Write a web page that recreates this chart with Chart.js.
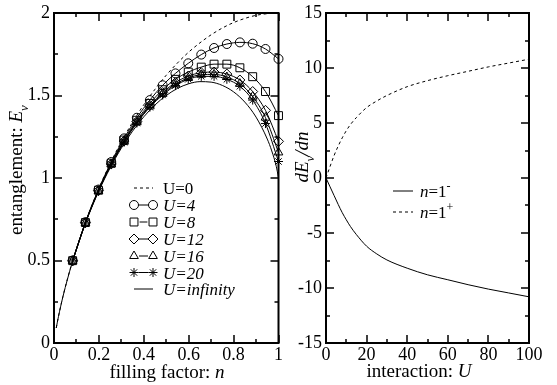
<!DOCTYPE html>
<html>
<head>
<meta charset="utf-8">
<script src="https://cdn.jsdelivr.net/npm/chart.js@4/dist/chart.umd.min.js"></script>
<style>
  html, body { margin: 0; padding: 0; background: #fff; }
  #wrap { position: relative; width: 557px; height: 385px; overflow: hidden; }
  #left { position: absolute; left: 0; top: 0; }
  #right { position: absolute; left: 282px; top: 0; }
</style>
</head>
<body>
<div id="wrap">
  <canvas id="left" width="286" height="385"></canvas>
  <canvas id="right" width="275" height="385"></canvas>
</div>
<script>
// ---- left panel: entanglement vs filling factor ----
const fineN   = [0.01,0.02,0.04,0.06,0.08,0.1,0.15,0.2,0.25,0.3,0.35,0.4,0.45,0.5,0.55,0.6,0.65,0.7,0.75,0.8,0.85,0.9,0.95,0.97,0.99,1.0];
const entU0   = [0.091,0.162,0.283,0.389,0.485,0.573,0.769,0.938,1.087,1.220,1.338,1.444,1.538,1.623,1.697,1.763,1.819,1.868,1.909,1.942,1.967,1.986,1.996,1.999,2.0,2.0];
const entUinf = [0.091,0.161,0.282,0.387,0.482,0.569,0.760,0.922,1.061,1.181,1.284,1.371,1.443,1.500,1.543,1.571,1.584,1.581,1.561,1.522,1.460,1.369,1.236,1.164,1.071,1.0];

const fillN  = [0.083,0.140,0.198,0.255,0.312,0.369,0.427,0.484,0.541,0.598,0.656,0.713,0.770,0.828,0.885,0.942,1.0];
const entU4  = [0.500,0.732,0.930,1.097,1.240,1.365,1.472,1.562,1.634,1.695,1.748,1.788,1.812,1.822,1.814,1.782,1.722];
const entU8  = [0.499,0.730,0.926,1.090,1.230,1.350,1.452,1.535,1.598,1.642,1.672,1.690,1.690,1.668,1.614,1.524,1.378];
const entU12 = [0.498,0.729,0.923,1.085,1.224,1.342,1.440,1.518,1.578,1.618,1.638,1.642,1.630,1.594,1.524,1.410,1.222];
const entU16 = [0.498,0.728,0.922,1.083,1.220,1.337,1.434,1.510,1.568,1.606,1.626,1.628,1.612,1.572,1.494,1.366,1.155];
const entU20 = [0.497,0.727,0.921,1.081,1.217,1.333,1.429,1.503,1.560,1.598,1.616,1.616,1.598,1.556,1.472,1.330,1.100];

const leftLabels = ['U=0', 'U=4', 'U=8', 'U=12', 'U=16', 'U=20', 'U=infinity'];
const leftXMajor = [0, 0.2, 0.4, 0.6, 0.8, 1];
const leftXMinor = [0.1, 0.3, 0.5, 0.7, 0.9];
const leftYMajor = [0, 0.5, 1, 1.5, 2];
const leftYMinor = [0.25, 0.75, 1.25, 1.75];

// ---- right panel: dE/dn at n=1 vs interaction ----
const interU     = [0,2,4,6,8,10,12,15,20,25,30,40,50,60,70,80,90,100];
const slopeMinus = [0,-0.8,-1.6,-2.4,-3.15,-3.8,-4.4,-5.15,-6.2,-6.9,-7.45,-8.2,-8.8,-9.25,-9.7,-10.1,-10.45,-10.8];
const slopePlus  = [0,1.05,2.05,2.9,3.65,4.3,4.85,5.5,6.4,7.0,7.5,8.3,8.85,9.3,9.7,10.1,10.45,10.8];

const rightXMajor = [0, 20, 40, 60, 80, 100];
const rightXMinor = [10, 30, 50, 70, 90];
const rightYMajor = [-15, -10, -5, 0, 5, 10, 15];
const rightYMinor = [-12.5, -7.5, -2.5, 2.5, 7.5, 12.5];

const serif = '"Liberation Serif", "Times New Roman", serif';

function pts(xs, ys) { return xs.map((x, i) => ({ x: x, y: ys[i] })); }

function fontOf(r, size) {
  const s = (r.sub || r.sup) ? Math.round(size * 0.7) : size;
  return (r.i ? 'italic ' : '') + s + 'px ' + serif;
}

// draws a run of text pieces (italic / sub / sup), align 'center' or 'left'
function drawRuns(ctx, runs, x, y, size, align) {
  let w = 0;
  runs.forEach(r => { ctx.font = fontOf(r, size); w += ctx.measureText(r.t).width; });
  let cx = align === 'left' ? x : x - w / 2;
  ctx.textAlign = 'left';
  ctx.textBaseline = 'alphabetic';
  ctx.fillStyle = '#000';
  runs.forEach(r => {
    ctx.font = fontOf(r, size);
    const dy = r.sub ? size * 0.3 : (r.sup ? -size * 0.42 : 0);
    ctx.fillText(r.t, cx, y + dy);
    cx += ctx.measureText(r.t).width;
  });
}

function marker(ctx, style, radius, x, y) {
  ctx.save();
  ctx.fillStyle = 'rgba(0,0,0,0)';
  ctx.strokeStyle = '#000';
  ctx.lineWidth = 1;
  if (Chart.helpers && Chart.helpers.drawPoint) {
    Chart.helpers.drawPoint(ctx, { pointStyle: style, rotation: 0, radius: radius, borderWidth: 1 }, x, y);
  } else {
    ctx.beginPath(); ctx.arc(x, y, radius, 0, Math.PI * 2); ctx.stroke();
  }
  ctx.restore();
}

function frameTicks(xMaj, xMin, yMaj, yMin) {
  return {
    id: 'frameTicks',
    afterDatasetsDraw(chart) {
      const ctx = chart.ctx, a = chart.chartArea, x = chart.scales.x, y = chart.scales.y;
      ctx.save();
      ctx.strokeStyle = '#000';
      ctx.lineWidth = 1.5;
      ctx.beginPath();
      const vt = (v, len) => {
        const px = Math.round(x.getPixelForValue(v));
        ctx.moveTo(px, a.bottom); ctx.lineTo(px, a.bottom - len);
        ctx.moveTo(px, a.top); ctx.lineTo(px, a.top + len);
      };
      const ht = (v, len) => {
        const py = Math.round(y.getPixelForValue(v));
        ctx.moveTo(a.left, py); ctx.lineTo(a.left + len, py);
        ctx.moveTo(a.right, py); ctx.lineTo(a.right - len, py);
      };
      xMaj.forEach(v => vt(v, 8)); xMin.forEach(v => vt(v, 4));
      yMaj.forEach(v => ht(v, 8)); yMin.forEach(v => ht(v, 4));
      ctx.stroke();
      ctx.lineWidth = 2;
      ctx.strokeRect(a.left, a.top, a.right - a.left, a.bottom - a.top);
      ctx.restore();
    }
  };
}

const tickFont = { family: serif, size: 18, lineHeight: 1 };

function axes(xmin, xmax, xstep, ymin, ymax, ystep, yWidth, fmt) {
  return {
    x: {
      type: 'linear', min: xmin, max: xmax,
      grid: { display: false, drawTicks: false }, border: { display: false },
      ticks: { stepSize: xstep, autoSkip: false, maxRotation: 0, color: '#000', font: tickFont, padding: 3, callback: fmt },
      afterFit: s => { s.height = 42; }
    },
    y: {
      type: 'linear', min: ymin, max: ymax,
      grid: { display: false, drawTicks: false }, border: { display: false },
      ticks: { stepSize: ystep, autoSkip: false, color: '#000', font: tickFont, padding: 4, callback: fmt },
      afterFit: s => { s.width = yWidth; }
    }
  };
}

const fmtNum = v => String(+(+v).toFixed(2));

function markedSet(label, ys, style, radius) {
  return {
    label: label, data: pts(fillN, ys),
    borderColor: '#000', borderWidth: 1,
    pointStyle: style, pointRadius: radius, pointBackgroundColor: 'rgba(0,0,0,0)',
    pointBorderColor: '#000', pointBorderWidth: 1,
    cubicInterpolationMode: 'monotone', fill: false, clip: 12
  };
}

const leftStyles = [null, 'circle', 'rect', 'rectRot', 'triangle', 'star', null];
const leftRadii  = [0, 4.5, 5.6, 5, 5, 4.5, 0];

const leftLegend = {
  id: 'leftLegend',
  afterDraw(chart) {
    const ctx = chart.ctx;
    const ys = [188, 205, 222, 239, 256, 272.5, 289];
    leftLabels.forEach((lab, i) => {
      const y = ys[i];
      ctx.save();
      ctx.strokeStyle = '#000';
      ctx.lineWidth = 1;
      ctx.setLineDash(i === 0 ? [3, 3] : []);
      ctx.beginPath();
      if (leftStyles[i]) {
        ctx.moveTo(134 + leftRadii[i], y); ctx.lineTo(153 - leftRadii[i], y);
      } else {
        ctx.moveTo(134, y); ctx.lineTo(153, y);
      }
      ctx.stroke();
      ctx.restore();
      if (leftStyles[i]) {
        marker(ctx, leftStyles[i], leftRadii[i], 134, y);
        marker(ctx, leftStyles[i], leftRadii[i], 153, y);
      }
      drawRuns(ctx, [{ t: lab, i: i > 0 }], 163, y + 6, 17, 'left');
    });
    // axis titles
    drawRuns(ctx, [{ t: 'filling factor: ' }, { t: 'n', i: 1 }], 167, 378, 19, 'center');
    ctx.save();
    ctx.translate(22, 170);
    ctx.rotate(-Math.PI / 2);
    drawRuns(ctx, [{ t: 'entanglement: ' }, { t: 'E', i: 1 }, { t: 'ν', i: 1, sub: 1 }], 0, 0, 19, 'center');
    ctx.restore();
  }
};

new Chart(document.getElementById('left'), {
  type: 'line',
  data: {
    datasets: [
      { label: leftLabels[0], data: pts(fineN, entU0), borderColor: '#000', borderWidth: 1, borderDash: [3, 3], pointRadius: 0, cubicInterpolationMode: 'monotone', fill: false },
      { label: leftLabels[6], data: pts(fineN, entUinf), borderColor: '#000', borderWidth: 1, pointRadius: 0, cubicInterpolationMode: 'monotone', fill: false },
      markedSet(leftLabels[1], entU4, 'circle', 4.5),
      markedSet(leftLabels[2], entU8, 'rect', 5.6),
      markedSet(leftLabels[3], entU12, 'rectRot', 5),
      markedSet(leftLabels[4], entU16, 'triangle', 5),
      markedSet(leftLabels[5], entU20, 'star', 4.5)
    ]
  },
  options: {
    responsive: false, animation: false, devicePixelRatio: 1,
    layout: { padding: { top: 10, right: 7, left: 0, bottom: 0 } },
    plugins: { legend: { display: false }, tooltip: { enabled: false } },
    scales: axes(0, 1, 0.2, 0, 2, 0.5, 54, fmtNum)
  },
  plugins: [frameTicks(leftXMajor, leftXMinor, leftYMajor, leftYMinor), leftLegend]
});

const rightLegend = {
  id: 'rightLegend',
  afterDraw(chart) {
    const ctx = chart.ctx;
    const items = [
      { y: 191, dash: [], sign: '-' },
      { y: 212, dash: [3, 3], sign: '+' }
    ];
    items.forEach(it => {
      ctx.save();
      ctx.strokeStyle = '#000';
      ctx.lineWidth = 1;
      ctx.setLineDash(it.dash);
      ctx.beginPath(); ctx.moveTo(111, it.y); ctx.lineTo(131, it.y); ctx.stroke();
      ctx.restore();
      drawRuns(ctx, [{ t: 'n', i: 1 }, { t: '=1' }, { t: it.sign, sup: 1 }], 138, it.y + 6, 17, 'left');
    });
    drawRuns(ctx, [{ t: 'interaction: ' }, { t: 'U', i: 1 }], 137, 377, 19, 'center');
    ctx.save();
    ctx.translate(26, 157);
    ctx.rotate(-Math.PI / 2);
    drawRuns(ctx, [{ t: 'dE', i: 1 }, { t: 'ν', i: 1, sub: 1 }, { t: '/dn', i: 1 }], 0, 0, 19, 'center');
    ctx.restore();
  }
};

new Chart(document.getElementById('right'), {
  type: 'line',
  data: {
    datasets: [
      { label: 'n=1-', data: pts(interU, slopeMinus), borderColor: '#000', borderWidth: 1, pointRadius: 0, cubicInterpolationMode: 'monotone', fill: false },
      { label: 'n=1+', data: pts(interU, slopePlus), borderColor: '#000', borderWidth: 1, borderDash: [3, 3], pointRadius: 0, cubicInterpolationMode: 'monotone', fill: false }
    ]
  },
  options: {
    responsive: false, animation: false, devicePixelRatio: 1,
    layout: { padding: { top: 10, right: 28, left: 0, bottom: 0 } },
    plugins: { legend: { display: false }, tooltip: { enabled: false } },
    scales: axes(0, 100, 20, -15, 15, 5, 44, v => String(v))
  },
  plugins: [frameTicks(rightXMajor, rightXMinor, rightYMajor, rightYMinor), rightLegend]
});
</script>
</body>
</html>
